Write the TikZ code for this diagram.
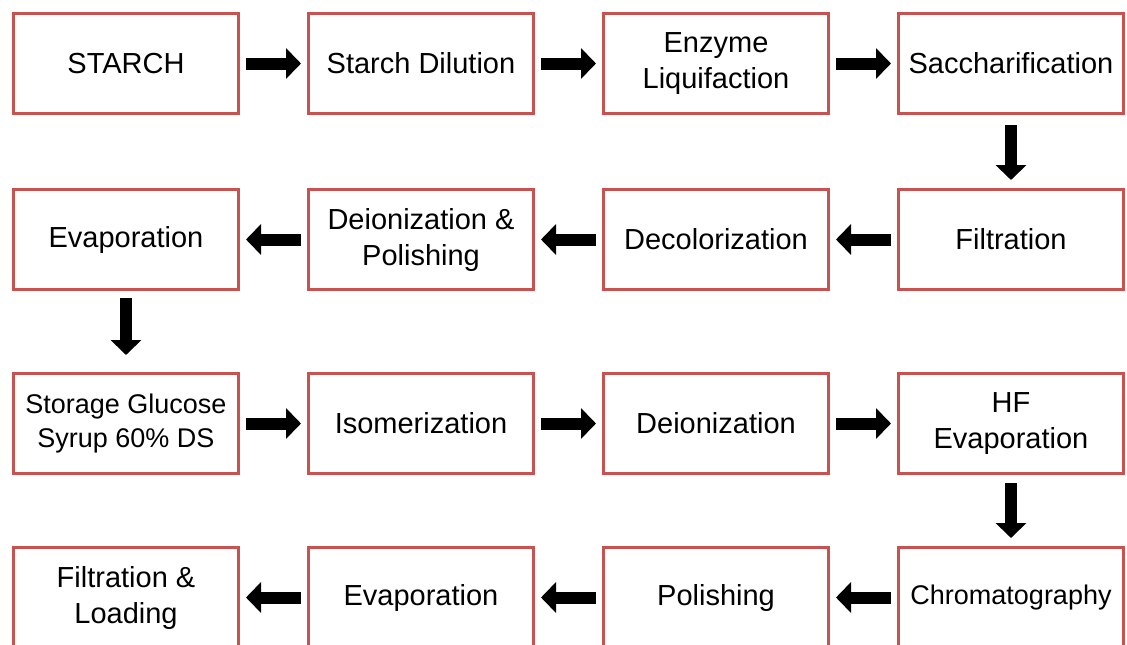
\documentclass[tikz,border=0pt]{standalone}
\usepackage{fontspec}
\setmainfont{Liberation Sans}
\usetikzlibrary{positioning,arrows.meta}
\definecolor{boxred}{RGB}{200,82,80}

\begin{document}
\begin{tikzpicture}[%
            x=1pt, y=1pt,
            step box/.style={rectangle, draw=boxred, line width=3pt, minimum width=225pt, minimum height=100pt, align=center, font=\fontsize{29}{36}\selectfont, inner sep=2pt},
            small text/.style={font=\fontsize{27}{34}\selectfont},
            arrow/.style={-{Triangle[length=15pt,width=30pt]}, line width=12pt, shorten <=6pt, shorten >=6pt}
        ]
        \clip (0,0) rectangle (1127,-645);

        % Row 1
        \node[step box] (starch) at (126,-63.5) {STARCH};
        \node[step box] (dilution) [right=67pt of starch] {Starch Dilution};
        \node[step box] (liquif) [right=67pt of dilution] {Enzyme\\Liquifaction};
        \node[step box] (sacch) [right=67pt of liquif] {Saccharification};

        % Row 2
        \node[step box] (filtr) [below=73pt of sacch] {Filtration};
        \node[step box] (decolor) [left=67pt of filtr] {Decolorization};
        \node[step box] (deion1) [left=67pt of decolor] {Deionization \&\\Polishing};
        \node[step box] (evap1) [left=67pt of deion1] {Evaporation};

        % Row 3
        \node[step box, small text] (storage) [below=81pt of evap1] {Storage Glucose\\Syrup 60\% DS};
        \node[step box] (isomer) [right=67pt of storage] {Isomerization};
        \node[step box] (deion2) [right=67pt of isomer] {Deionization};
        \node[step box] (hfevap) [right=67pt of deion2] {HF\\Evaporation};

        % Row 4
        \node[step box, small text] (chrom) [below=71pt of hfevap] {Chromatography};
        \node[step box] (polish) [left=67pt of chrom] {Polishing};
        \node[step box] (evap2) [left=67pt of polish] {Evaporation};
        \node[step box] (loading) [left=67pt of evap2] {Filtration \&\\Loading};

        % Connect row 1
        \draw[arrow] (starch) -- (dilution);
        \draw[arrow] (dilution) -- (liquif);
        \draw[arrow] (liquif) -- (sacch);
        \draw[arrow, shorten <=10pt, shorten >=8pt] (sacch) -- (filtr);

        % Connect row 2
        \draw[arrow] (filtr) -- (decolor);
        \draw[arrow] (decolor) -- (deion1);
        \draw[arrow] (deion1) -- (evap1);
        \draw[arrow, shorten <=7pt, shorten >=17pt] (evap1) -- (storage);

        % Connect row 3
        \draw[arrow] (storage) -- (isomer);
        \draw[arrow] (isomer) -- (deion2);
        \draw[arrow] (deion2) -- (hfevap);
        \draw[arrow, shorten <=8pt, shorten >=8pt] (hfevap) -- (chrom);

        % Connect row 4
        \draw[arrow] (chrom) -- (polish);
        \draw[arrow] (polish) -- (evap2);
        \draw[arrow] (evap2) -- (loading);

        \end{tikzpicture}
\end{document}
